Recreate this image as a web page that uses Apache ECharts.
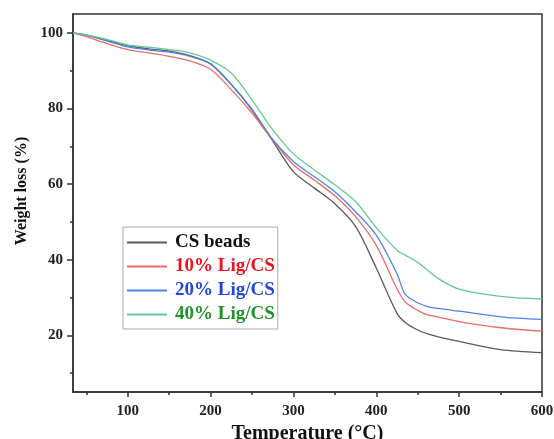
<!DOCTYPE html>
<html>
<head>
<meta charset="utf-8">
<script src="https://cdn.jsdelivr.net/npm/echarts@6/dist/echarts.min.js"></script>
<style>
  html, body { margin: 0; padding: 0; background: #fff; }
  #tga { width: 554px; height: 439px; }
</style>
</head>
<body>
<div id="tga"></div>
<script>
// temperature (°C) and weight (%)
var temps = [34, 50, 75, 100, 125, 150, 175, 200, 225, 250, 275, 300, 325, 350, 375, 400, 425, 435, 450, 462, 475, 500, 550, 600];
var csBeads = [100, 99.4, 98.0, 96.6, 95.8, 95.2, 94.0, 91.8, 86.3, 79.6, 71.4, 63.3, 59.0, 54.8, 48.8, 37.8, 25.8, 23.4, 21.4, 20.4, 19.6, 18.4, 16.2, 15.4];
var lig10 = [100, 99.0, 97.2, 95.6, 94.7, 93.8, 92.6, 90.4, 85.0, 78.8, 71.6, 65.1, 61.1, 56.9, 51.4, 43.8, 32.3, 28.8, 26.6, 25.4, 24.8, 23.6, 22.0, 21.1];
var lig20 = [100, 99.4, 97.9, 96.3, 95.5, 94.9, 93.8, 91.8, 86.4, 79.8, 71.8, 66.0, 62.0, 58.0, 52.7, 46.5, 36.3, 30.8, 28.6, 27.6, 27.1, 26.4, 24.9, 24.2];
var lig40 = [100, 99.5, 98.3, 96.8, 96.2, 95.6, 94.7, 92.8, 89.4, 82.3, 74.4, 68.0, 63.8, 59.8, 55.4, 48.5, 42.5, 41.2, 39.3, 37.2, 35.0, 32.2, 30.3, 29.6];

var xMajor = [100, 200, 300, 400, 500, 600];
var xMinor = [50, 150, 250, 350, 450, 550];
var yMajor = [20, 40, 60, 80, 100];
var yMinor = [10, 30, 50, 70, 90];

var names = ['CS beads', '10% Lig/CS', '20% Lig/CS', '40% Lig/CS'];
var lineColors = ['#5a5a5a', '#f06a6a', '#4f84e4', '#66c994'];
var textColors = ['#111111', '#e8141e', '#2645dc', '#1e9428'];

var font = '"Liberation Serif", "Times New Roman", serif';
var axisColor = '#333';

function pairs(vals) {
  var out = [];
  for (var i = 0; i < temps.length; i++) {
    out.push([temps[i], vals[i]]);
  }
  return out;
}

var seriesData = [csBeads, lig10, lig20, lig40];
var series = [];
for (var k = 0; k < names.length; k++) {
  series.push({
    name: names[k],
    type: 'line',
    data: pairs(seriesData[k]),
    showSymbol: false,
    symbol: 'none',
    smooth: 0.3,
    lineStyle: { color: lineColors[k], width: 1.3 },
    itemStyle: { color: lineColors[k] }
  });
}

var option = {
  animation: false,
  backgroundColor: '#fff',
  grid: {
    left: 73, right: 12, top: 14, bottom: 47,
    containLabel: false,
    outerBoundsMode: 'none',
    show: true,
    borderColor: axisColor,
    borderWidth: 1.5,
    backgroundColor: 'transparent'
  },
  legend: {
    left: 123, top: 227,
    orient: 'vertical',
    padding: [6, 3, 5, 4],
    itemGap: 5,
    itemWidth: 40,
    itemHeight: 2,
    icon: 'rect',
    borderColor: '#aaaaaa',
    borderWidth: 1,
    data: names.map(function(n, i) {
      return { name: n, textStyle: { color: textColors[i] } };
    }),
    textStyle: {
      fontFamily: font, fontWeight: 'bold', fontSize: 19,
      padding: [0, 0, 0, 3]
    }
  },
  xAxis: [
    {
      type: 'value',
      min: 34, max: 600,
      name: 'Temperature (°C)',
      nameLocation: 'middle',
      nameGap: 30,
      nameTextStyle: { fontFamily: font, fontWeight: 'bold', fontSize: 20, color: '#111' },
      axisLine: { show: true, onZero: false, lineStyle: { color: axisColor, width: 1.5 } },
      axisTick: { show: true, inside: false, length: 5, customValues: xMajor, lineStyle: { color: axisColor, width: 1.5 } },
      axisLabel: { customValues: xMajor, margin: 12, fontFamily: font, fontWeight: 'bold', fontSize: 15, color: '#222' },
      splitLine: { show: false }
    },
    {
      type: 'value',
      min: 34, max: 600,
      position: 'bottom',
      axisLine: { show: false },
      axisTick: { show: true, inside: false, length: 3, customValues: xMinor, lineStyle: { color: axisColor, width: 1.5 } },
      axisLabel: { show: false },
      splitLine: { show: false }
    }
  ],
  yAxis: [
    {
      type: 'value',
      min: 5, max: 105,
      name: 'Weight loss (%)',
      nameLocation: 'middle',
      nameGap: 40,
      nameTextStyle: { fontFamily: font, fontWeight: 'bold', fontSize: 16, color: '#111', padding: [0, 0, 0, 24] },
      axisLine: { show: true, onZero: false, lineStyle: { color: axisColor, width: 1.5 } },
      axisTick: { show: true, inside: false, length: 6, customValues: yMajor, lineStyle: { color: axisColor, width: 1.5 } },
      axisLabel: { customValues: yMajor, margin: 10, fontFamily: font, fontWeight: 'bold', fontSize: 15, color: '#222' },
      splitLine: { show: false }
    },
    {
      type: 'value',
      min: 5, max: 105,
      position: 'left',
      axisLine: { show: false },
      axisTick: { show: true, inside: false, length: 3, customValues: yMinor, lineStyle: { color: axisColor, width: 1.5 } },
      axisLabel: { show: false },
      splitLine: { show: false }
    }
  ],
  series: series
};

var chart = echarts.init(document.getElementById('tga'), null, { renderer: 'canvas' });
chart.setOption(option);
</script>
</body>
</html>
